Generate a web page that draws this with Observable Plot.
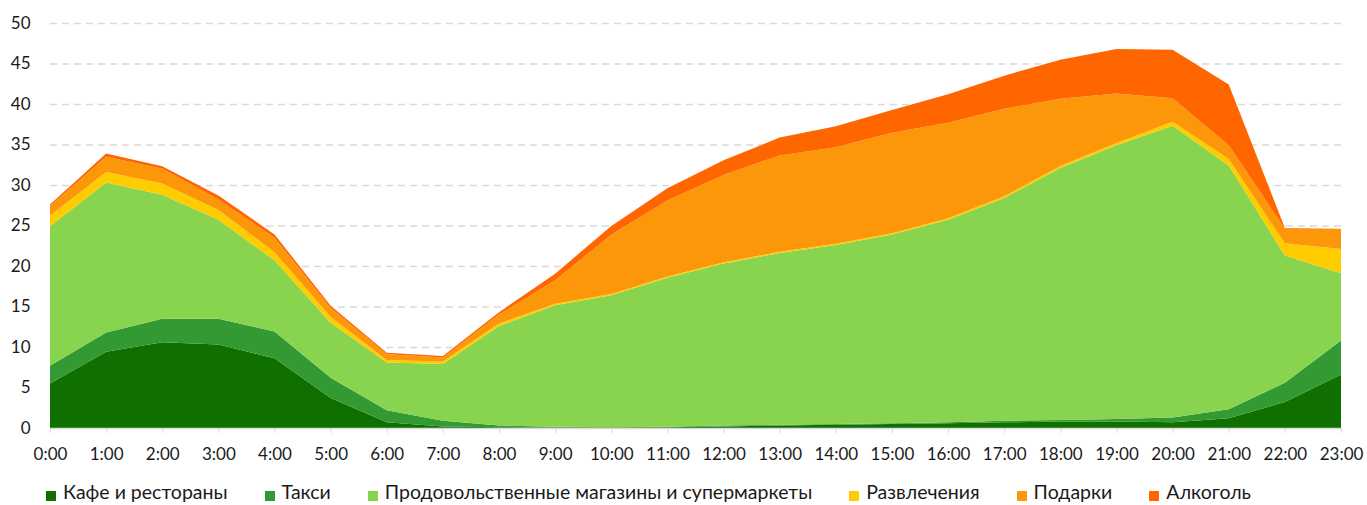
<!DOCTYPE html>
<html>
<head>
<meta charset="utf-8">
<script src="https://cdn.jsdelivr.net/npm/d3@7"></script>
<script src="https://cdn.jsdelivr.net/npm/@observablehq/plot@0.6"></script>
<style>
  body { margin: 0; background: #fff; font-family: Lato, "Open Sans", sans-serif; overflow: hidden; }
  #chart svg { display: block; }
  #legend { display: flex; align-items: center; margin-left: 46px; margin-top: 11px; font-size: 19.5px; line-height: 22px; color: #1a1a1a; gap: 37px; white-space: nowrap; }
  #legend .item { display: flex; align-items: center; }
  #legend .sw { width: 10px; height: 10px; margin-right: 7px; position: relative; top: 4px; }
</style>
</head>
<body>
<div id="chart"></div>
<div id="legend"></div>
<script>
const hourLabels = ["0:00","1:00","2:00","3:00","4:00","5:00","6:00","7:00","8:00","9:00","10:00","11:00","12:00","13:00","14:00","15:00","16:00","17:00","18:00","19:00","20:00","21:00","22:00","23:00"];
const categories = ["Кафе и рестораны","Такси","Продовольственные магазины и супермаркеты","Развлечения","Подарки","Алкоголь"];
const colors = ["#0f7000","#339933","#88d44e","#ffcc00","#fb9709","#ff6600"];

const cafe    = [5.5, 9.4, 10.6, 10.3, 8.6, 3.7, 0.7, 0.2, 0.1, 0.05, 0.05, 0.1, 0.2, 0.3, 0.4, 0.5, 0.6, 0.7, 0.8, 0.8, 0.7, 1.2, 3.2, 6.6];
const taxi    = [2.2, 2.4, 2.9, 3.2, 3.3, 2.5, 1.5, 0.7, 0.2, 0.1, 0.05, 0.05, 0.1, 0.1, 0.1, 0.1, 0.1, 0.2, 0.2, 0.3, 0.6, 1.1, 2.4, 4.2];
const grocery = [17.2, 18.5, 15.3, 12.2, 8.8, 6.8, 5.9, 7.0, 12.3, 15.0, 16.3, 18.4, 20.0, 21.2, 22.1, 23.3, 25.0, 27.5, 31.1, 33.8, 36.0, 30.1, 15.7, 8.3];
const fun     = [1.3, 1.3, 1.4, 1.2, 1.0, 0.7, 0.3, 0.3, 0.3, 0.2, 0.15, 0.15, 0.15, 0.15, 0.15, 0.15, 0.2, 0.2, 0.25, 0.3, 0.5, 0.8, 1.5, 3.0];
const gifts   = [1.2, 1.9, 1.8, 1.3, 1.8, 1.1, 0.7, 0.5, 1.1, 2.9, 7.3, 9.4, 10.8, 11.9, 11.9, 12.4, 11.8, 10.8, 8.3, 6.1, 2.9, 1.7, 1.8, 2.5];
const alcohol = [0.2, 0.4, 0.3, 0.5, 0.4, 0.3, 0.2, 0.2, 0.3, 0.8, 1.1, 1.5, 1.8, 2.2, 2.6, 2.8, 3.5, 4.1, 4.8, 5.5, 6.0, 7.5, 0.1, 0.0];
const yTicks = [0, 5, 10, 15, 20, 25, 30, 35, 40, 45, 50];

const seriesValues = [cafe, taxi, grocery, fun, gifts, alcohol];
const data = [];
categories.forEach((c, i) => {
  seriesValues[i].forEach((v, h) => data.push({hour: h, value: v, cat: c}));
});

const plot = Plot.plot({
  width: 1367,
  height: 470,
  marginLeft: 50,
  marginRight: 26,
  marginTop: 23,
  marginBottom: 42,
  style: { fontFamily: "Lato, 'Open Sans', sans-serif", fontSize: "17px", color: "#1a1a1a", background: "#fff" },
  x: { type: "linear", domain: [0, 23], ticks: d3.range(0, 24), tickFormat: d => hourLabels[d], label: null },
  y: { domain: [0, 50], ticks: yTicks, label: null },
  color: { domain: categories, range: colors },
  marks: [
    Plot.ruleY(yTicks.filter(d => d > 0), { stroke: "#d9d9d9", strokeWidth: 1.5, strokeDasharray: "7,5" }),
    Plot.areaY(data, { x: "hour", y: "value", fill: "cat", z: "cat", order: categories, curve: "linear" }),
    Plot.ruleY([0], { stroke: "#d9d9d9", strokeWidth: 1.5 }),
    Plot.axisX({ ticks: d3.range(0, 24), tickFormat: d => hourLabels[d], tickSize: 5, stroke: "#d9d9d9", tickPadding: 14, fill: "#1a1a1a", fontSize: 17 }),
    Plot.axisY({ ticks: yTicks, tickSize: 0, tickPadding: 20, fill: "#1a1a1a", fontSize: 17 })
  ]
});
document.getElementById("chart").appendChild(plot);

const legend = document.getElementById("legend");
categories.forEach((c, i) => {
  const item = document.createElement("div");
  item.className = "item";
  const sw = document.createElement("span");
  sw.className = "sw";
  sw.style.background = colors[i];
  const t = document.createElement("span");
  t.textContent = c;
  item.appendChild(sw);
  item.appendChild(t);
  legend.appendChild(item);
});
</script>
</body>
</html>
